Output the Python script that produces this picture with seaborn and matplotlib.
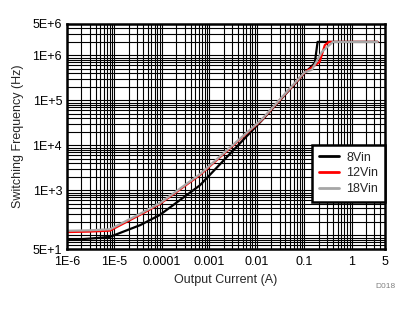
import numpy as np
import pandas as pd
import seaborn as sns
import matplotlib
matplotlib.use("Agg")
import matplotlib.pyplot as plt
from matplotlib.ticker import FixedLocator, FixedFormatter, NullFormatter

# данные
current_8v = [1e-6, 3e-6, 8e-6, 3.5e-5, 9e-5, 6.3e-4, 1.27e-2, 0.1, 0.166, 0.19, 3.5]
freq_8v = [79, 85, 93, 170, 285, 1300, 3.6e4, 4.0e5, 6.8e5, 2.0e6, 2.0e6]

current_12v = [1e-6, 3e-6, 8e-6, 3.4e-5, 9e-5, 6.3e-4, 1.27e-2, 0.1, 0.21, 0.27, 0.33, 3.5]
freq_12v = [119, 122, 128, 285, 500, 2200, 3.7e4, 4.1e5, 7.2e5, 1.7e6, 2.0e6, 2.0e6]

current_18v = [1e-6, 3e-6, 8e-6, 3.4e-5, 9e-5, 6.3e-4, 1.27e-2, 0.1, 0.144, 0.234, 0.4, 3.5]
freq_18v = [127, 130, 137, 300, 520, 2300, 3.8e4, 4.2e5, 4.8e5, 1.2e6, 2.0e6, 2.0e6]

series_names = ['8Vin', '12Vin', '18Vin']
series_colors = ['#000000', '#ff0000', '#a6a6a6']

x_ticks = [1e-6, 1e-5, 1e-4, 1e-3, 1e-2, 1e-1, 1, 5]
x_labels = ['1E-6', '1E-5', '0.0001', '0.001', '0.01', '0.1', '1', '5']
y_ticks = [50, 1e3, 1e4, 1e5, 1e6, 5e6]
y_labels = ['5E+1', '1E+3', '1E+4', '1E+5', '1E+6', '5E+6']

frames = []
for name, xs, ys in zip(series_names,
                        [current_8v, current_12v, current_18v],
                        [freq_8v, freq_12v, freq_18v]):
    frames.append(pd.DataFrame({'current': xs, 'freq': ys, 'vin': name}))
df = pd.concat(frames, ignore_index=True)

sns.set_style("white")
plt.rcParams['font.family'] = ['Liberation Sans', 'DejaVu Sans']

fig = plt.figure(figsize=(4.18, 3.12), dpi=100)
ax = fig.add_axes([67 / 418, 1 - 249 / 312, 318 / 418, 225 / 312])

sns.lineplot(data=df, x='current', y='freq', hue='vin', hue_order=series_names,
             palette=series_colors, estimator=None, sort=False, linewidth=1.6, ax=ax)

ax.set_xscale('log')
ax.set_yscale('log')
ax.set_xlim(1e-6, 5)
ax.set_ylim(50, 5e6)

ax.xaxis.set_major_locator(FixedLocator(x_ticks))
ax.xaxis.set_major_formatter(FixedFormatter(x_labels))
ax.yaxis.set_major_locator(FixedLocator(y_ticks))
ax.yaxis.set_major_formatter(FixedFormatter(y_labels))

x_minor = [m * 10.0 ** e for e in range(-6, 1) for m in range(1, 10)]
y_minor = [m * 10.0 ** e for e in range(1, 7) for m in range(1, 10)]
ax.xaxis.set_minor_locator(FixedLocator(x_minor))
ax.yaxis.set_minor_locator(FixedLocator(y_minor))
ax.xaxis.set_minor_formatter(NullFormatter())
ax.yaxis.set_minor_formatter(NullFormatter())

ax.grid(True, which='both', color='black', linewidth=0.8)
ax.set_axisbelow(True)
ax.tick_params(which='both', length=0, labelsize=9, colors='black')
ax.tick_params(axis='x', pad=5)
ax.tick_params(axis='y', pad=3.5)
for sp in ax.spines.values():
    sp.set_visible(True)
    sp.set_color('black')
    sp.set_linewidth(1.8)

ax.set_xlabel('Output Current (A)', fontsize=9, labelpad=4)
ax.set_ylabel('Switching Frequency (Hz)', fontsize=9, labelpad=6)

leg = ax.legend(loc='center right', bbox_to_anchor=(1.0, 0.336), fontsize=9,
                frameon=True, fancybox=False, framealpha=1, edgecolor='black',
                handlelength=1.6, handletextpad=0.55, borderpad=0.55,
                borderaxespad=0, labelspacing=0.3)
leg.get_frame().set_linewidth(1.8)
for line in leg.get_lines():
    line.set_linewidth(2)

fig.text(395 / 418, 1 - 286 / 312, 'D018', fontsize=6, color='#808080', ha='right', va='center')

fig.savefig('out.png', dpi=100)
